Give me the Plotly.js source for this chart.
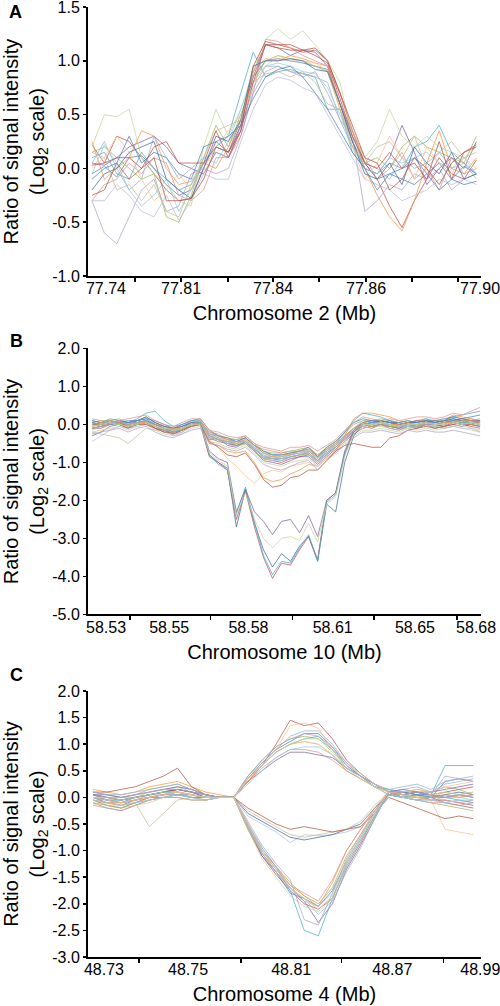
<!DOCTYPE html>
<html>
<head>
<meta charset="utf-8">
<script src="https://cdn.plot.ly/plotly-3.0.1.min.js"></script>
<style>html,body{margin:0;padding:0;background:#fff;}#chart{width:500px;height:1006px;}</style>
</head>
<body>
<div id="chart"></div>
<script>
// ---------------- Panel A : chromosome 2 ----------------
const probeA = [0,1,2,3,4,5,6,7,8,9,10,11,12,13,14,15,16,17,18,19,20,21,22,23,24,25,26,27,28,29,30,31];
const a01 = [-0.05,0.02,-0.08,0.1,0.12,0.0,-0.15,-0.25,-0.2,0.05,0.2,0.15,0.45,0.85,1.0,1.02,1.0,0.98,0.95,0.92,0.6,0.3,0.05,-0.1,-0.05,0.0,0.1,-0.05,0.05,-0.1,0.02,-0.05];
const a02 = [0.22,0.05,0.3,0.25,0.1,-0.05,-0.2,-0.3,-0.28,0.0,0.25,0.15,0.4,0.9,1.15,1.15,1.12,1.08,1.1,1.0,0.7,0.35,0.05,-0.1,-0.35,-0.55,-0.3,-0.1,0.1,-0.05,-0.1,0.08];
const a03 = [0.15,0.2,0.1,0.0,-0.1,-0.05,-0.45,-0.5,-0.25,0.1,0.4,0.2,0.5,0.8,1.0,1.05,1.02,1.0,0.95,0.9,0.55,0.25,0.05,0.1,0.0,0.2,0.3,0.2,0.15,0.1,0.05,0.3];
const a04 = [0.05,0.03,0.1,0.2,0.25,0.3,0.2,0.05,0.0,-0.05,0.15,0.1,0.4,0.85,1.15,1.12,1.05,1.1,1.08,0.95,0.6,0.25,0.0,-0.05,0.1,0.4,0.15,-0.15,0.0,0.1,0.0,0.25];
const a05 = [0.1,0.15,-0.05,-0.1,0.15,0.0,-0.1,-0.2,-0.15,0.05,0.2,0.3,0.7,1.08,0.85,0.9,0.92,0.88,0.85,0.55,0.55,0.15,0.0,-0.05,0.05,0.0,0.2,0.25,0.4,0.15,0.05,-0.05];
const a06 = [0.25,-0.1,0.0,0.1,0.35,0.3,0.0,-0.15,-0.12,0.05,0.0,0.2,0.45,0.9,1.02,1.0,1.05,1.02,0.98,0.95,0.6,0.35,0.0,-0.25,-0.45,-0.58,-0.3,0.05,0.35,0.0,-0.05,0.1];
const a07 = [0.05,0.25,0.0,-0.2,-0.1,0.3,0.1,-0.1,0.0,0.1,0.15,0.1,0.35,0.75,0.95,0.95,0.9,0.88,0.85,0.8,0.45,0.2,0.05,0.0,-0.1,0.1,0.0,0.05,0.15,0.0,0.05,-0.1];
const a08 = [-0.3,-0.15,-0.1,0.05,-0.05,0.1,0.05,-0.25,-0.3,-0.2,0.1,0.1,0.3,0.7,1.2,1.18,1.12,1.05,1.0,0.95,0.7,0.35,0.1,-0.1,0.0,0.15,-0.1,0.0,-0.2,0.1,-0.05,0.0];
const a09 = [0.2,0.5,0.48,0.55,0.1,-0.05,-0.15,-0.3,-0.35,0.2,0.55,0.3,0.55,0.9,1.2,1.3,1.2,1.28,1.15,1.0,0.8,0.3,0.1,0.25,0.55,0.3,0.2,0.3,0.2,0.15,0.1,0.2];
const a10 = [-0.3,-0.6,-0.7,-0.45,-0.2,-0.1,-0.4,-0.35,-0.05,0.0,-0.05,0.0,0.3,0.7,0.9,0.95,0.9,0.85,0.9,0.7,0.45,0.3,-0.4,-0.3,-0.15,-0.2,-0.05,-0.1,0.0,-0.2,-0.1,-0.05];
const a11 = [-0.05,0.22,0.05,-0.2,-0.35,-0.25,-0.1,-0.4,-0.2,0.1,0.05,0.25,0.55,0.85,0.95,0.98,0.95,0.9,0.88,0.75,0.5,0.2,0.0,-0.05,0.1,0.05,0.1,0.15,0.05,0.0,0.1,-0.05];
const a12 = [0.0,0.1,0.3,0.15,-0.1,-0.3,-0.2,-0.05,-0.2,0.0,0.2,0.35,0.5,0.8,0.95,1.05,1.0,1.0,0.98,0.9,0.55,0.2,-0.1,0.05,0.3,0.1,-0.1,0.2,0.05,-0.05,0.1,0.0];
const a13 = [-0.3,-0.3,-0.15,-0.25,-0.4,-0.45,-0.25,-0.48,-0.3,-0.05,-0.1,-0.1,0.25,0.55,0.78,0.85,0.82,0.75,0.7,0.5,0.3,0.1,-0.1,-0.15,-0.2,-0.3,-0.25,-0.2,-0.1,-0.15,-0.1,-0.15];
const a14 = [-0.2,-0.05,0.0,0.15,0.2,0.25,-0.1,-0.2,-0.28,0.0,0.3,0.25,0.45,0.95,1.0,1.0,1.02,1.0,0.92,0.9,0.6,0.25,-0.05,-0.1,0.05,-0.15,0.2,0.05,-0.05,0.15,-0.1,-0.05];
const a15 = [0.15,0.1,-0.2,-0.15,-0.3,-0.15,-0.4,-0.45,-0.15,0.1,0.35,0.4,0.45,0.8,0.88,0.9,0.85,0.9,0.8,0.6,0.55,0.2,0.05,0.2,0.25,0.1,0.3,0.0,0.15,0.25,0.1,0.15];
const a16 = [-0.25,-0.2,0.05,-0.1,0.0,0.1,-0.3,-0.3,-0.28,-0.1,0.2,0.15,0.35,0.95,1.18,1.15,1.15,1.1,1.12,1.0,0.7,0.4,0.1,0.05,-0.2,-0.1,0.1,0.0,-0.15,0.05,0.15,0.2];
const a17 = [-0.1,0.0,0.05,0.3,0.05,0.15,0.1,-0.05,-0.1,0.2,0.25,0.3,0.4,0.65,0.85,0.92,0.95,0.85,0.7,0.55,0.35,0.15,0.0,-0.2,-0.05,-0.1,-0.15,-0.05,-0.2,-0.1,-0.15,-0.12];
const a18 = [0.03,0.05,0.1,0.1,0.0,0.2,0.25,0.05,0.05,0.05,0.35,0.1,0.35,0.8,1.15,1.12,1.1,1.1,1.05,0.98,0.65,0.3,0.05,0.0,0.15,0.0,0.05,-0.1,0.25,-0.1,0.15,0.22];
const seriesA = [a01,a02,a03,a04,a05,a06,a07,a08,a09,a10,a11,a12,a13,a14,a15,a16,a17,a18];
const xLabelsA = ['77.74','77.81','77.84','77.86','77.90'];
const yTicksA = [-1.0,-0.5,0.0,0.5,1.0,1.5];
const yLabelsA = ['-1.0','-0.5','0.0','0.5','1.0','1.5'];

// ---------------- Panel B : chromosome 10 ----------------
const probeB = [0,1,2,3,4,5,6,7,8,9,10,11,12,13,14,15,16,17,18,19,20,21,22,23,24,25,26,27,28,29,30,31,32,33,34,35,36,37,38,39,40,41,42,43];
const b01 = [0.0,-0.05,0.05,0.1,0.0,0.1,0.15,0.0,-0.1,-0.2,-0.1,0.05,0.05,-0.3,-0.4,-0.5,-0.55,-0.45,-0.65,-0.85,-0.9,-0.95,-0.85,-0.8,-0.75,-0.95,-0.75,-0.6,-0.35,-0.1,0.05,0.0,0.1,0.05,-0.05,0.0,-0.05,0.1,0.0,0.05,0.15,0.1,0.05,0.0];
const b02 = [-0.1,-0.1,0.0,0.05,-0.05,0.0,0.05,-0.05,-0.15,-0.2,-0.15,-0.05,0.0,-0.35,-0.45,-0.5,-0.55,-0.5,-0.7,-0.9,-0.95,-1.0,-0.9,-0.85,-0.8,-1.0,-0.8,-0.6,-0.4,-0.2,-0.05,-0.1,0.0,-0.05,-0.1,-0.05,-0.1,0.0,-0.05,0.0,0.05,0.0,-0.05,-0.1];
const b03 = [0.05,0.1,0.1,0.15,0.05,0.1,0.2,0.05,-0.05,-0.1,-0.05,0.05,0.1,-0.2,-0.3,-0.35,-0.4,-0.3,-0.5,-0.7,-0.75,-0.75,-0.7,-0.65,-0.6,-0.8,-0.6,-0.45,-0.25,0.0,0.1,0.1,0.15,0.1,0.05,0.1,0.05,0.15,0.1,0.1,0.2,0.15,0.1,0.15];
const b04 = [-0.3,-0.2,-0.05,0.0,-0.1,0.05,0.1,-0.1,-0.2,-0.25,-0.15,0.0,0.05,-0.4,-0.35,-0.55,-0.6,-0.45,-0.7,-0.95,-1.0,-1.05,-0.95,-0.85,-0.85,-1.05,-0.85,-0.65,-0.45,-0.25,-0.1,-0.05,0.0,-0.1,-0.15,-0.05,-0.1,0.0,-0.1,-0.05,0.0,-0.05,0.0,-0.05];
const b05 = [0.1,0.05,0.15,0.1,0.05,0.15,0.3,0.35,0.1,-0.05,0.0,0.1,0.1,-0.25,-0.3,-0.4,-0.45,-0.35,-0.55,-0.75,-0.8,-0.8,-0.75,-0.7,-0.65,-0.85,-0.65,-0.5,-0.2,0.1,0.3,0.25,0.2,0.1,0.05,0.0,0.1,0.15,0.05,0.1,0.2,0.25,0.3,0.35];
const b06 = [-0.05,0.0,0.0,0.05,-0.05,0.0,0.05,-0.05,-0.15,-0.3,-0.2,-0.05,0.0,-0.35,-0.4,-0.45,-0.5,-0.45,-0.6,-0.85,-0.85,-0.9,-0.85,-0.8,-0.7,-0.9,-0.7,-0.55,-0.3,-0.1,0.0,0.05,0.05,-0.05,-0.1,0.0,0.0,0.05,-0.05,0.0,0.1,0.05,0.05,0.0];
const b07 = [0.0,0.05,0.1,0.0,0.0,0.05,0.1,0.05,-0.05,-0.1,-0.05,0.1,0.05,-0.2,-0.25,-0.4,-0.4,-0.35,-0.55,-0.65,-0.7,-0.75,-0.7,-0.7,-0.65,-0.8,-0.65,-0.5,-0.3,-0.1,0.05,0.1,0.1,0.05,0.0,0.05,0.1,0.1,0.05,0.1,0.1,0.1,0.15,0.1];
const b08 = [-0.2,-0.15,-0.1,-0.05,-0.15,-0.05,0.0,-0.15,-0.25,-0.3,-0.25,-0.1,-0.05,-0.45,-0.5,-0.6,-0.65,-0.55,-0.75,-1.0,-1.05,-1.1,-1.0,-0.95,-0.9,-1.1,-0.9,-0.7,-0.5,-0.3,-0.15,-0.15,-0.1,-0.15,-0.2,-0.1,-0.15,-0.1,-0.15,-0.1,-0.05,-0.1,-0.15,-0.2];
const b09 = [0.05,0.0,0.05,0.1,0.05,0.05,0.1,0.0,-0.05,-0.15,-0.05,0.05,0.1,-0.25,-0.3,-0.45,-0.45,-0.4,-0.65,-0.8,-0.9,-0.85,-0.8,-0.75,-0.75,-0.95,-0.7,-0.55,-0.35,-0.15,0.0,0.05,0.05,0.0,-0.05,0.05,0.0,0.05,0.05,0.1,0.1,0.05,0.1,0.05];
const b10 = [-0.15,-0.05,0.0,0.0,-0.05,0.0,0.05,-0.05,-0.1,-0.15,-0.1,0.0,0.0,-0.3,-0.35,-0.5,-0.5,-0.45,-0.6,-0.8,-0.85,-0.85,-0.8,-0.7,-0.7,-0.85,-0.7,-0.5,-0.3,-0.1,0.1,0.05,0.0,0.0,-0.05,-0.05,0.0,0.0,-0.05,0.0,0.05,0.1,0.0,-0.05];
const b11 = [-0.45,-0.3,-0.15,-0.05,-0.1,-0.05,0.0,-0.1,-0.2,-0.25,-0.2,-0.05,0.0,-0.35,-0.4,-0.5,-0.6,-0.5,-0.7,-0.9,-0.95,-0.95,-0.9,-0.8,-0.8,-1.0,-0.8,-0.6,-0.4,-0.15,-0.05,0.0,0.0,-0.05,-0.1,-0.05,-0.05,0.0,-0.05,-0.1,-0.05,-0.1,-0.1,-0.15];
const b12 = [-0.2,-0.25,-0.3,-0.35,-0.5,-0.3,-0.1,-0.15,-0.15,-0.2,-0.1,0.0,0.0,-0.25,-0.35,-0.45,-0.5,-0.4,-0.6,-0.75,-0.8,-0.85,-0.75,-0.7,-0.7,-0.85,-0.7,-0.5,-0.3,-0.1,0.0,0.0,-0.05,-0.1,-0.15,-0.1,-0.05,0.0,-0.05,-0.1,-0.05,0.0,-0.1,-0.2];
const b13 = [0.1,0.05,0.0,0.05,0.1,0.1,0.15,0.1,0.0,-0.1,0.0,0.1,0.15,-0.15,-0.3,-0.35,-0.45,-0.35,-0.55,-0.7,-0.8,-0.8,-0.75,-0.7,-0.6,-0.85,-0.6,-0.45,-0.2,0.05,0.15,0.1,0.1,0.05,0.05,0.1,0.05,0.1,0.1,0.15,0.2,0.15,0.2,0.25];
const b14 = [-0.05,0.0,0.05,0.0,-0.05,0.0,0.1,0.0,-0.1,-0.2,-0.15,0.0,0.05,-0.3,-0.4,-0.45,-0.55,-0.5,-0.7,-0.9,-0.9,-0.9,-0.85,-0.8,-0.8,-0.95,-0.8,-0.6,-0.4,-0.15,0.0,-0.05,0.0,-0.05,-0.05,0.0,-0.05,0.05,0.0,0.0,0.1,0.05,0.0,0.05];
const b15 = [0.0,0.05,0.1,0.05,0.0,0.05,0.05,0.0,-0.1,-0.1,-0.1,0.0,0.1,-0.3,-0.3,-0.4,-0.5,-0.4,-0.55,-0.75,-0.85,-0.8,-0.8,-0.7,-0.7,-0.9,-0.65,-0.5,-0.3,-0.1,0.05,0.0,0.05,0.0,0.0,0.05,0.0,0.05,0.0,0.05,0.05,0.1,0.1,0.05];
const b16 = [-0.1,-0.05,0.0,0.1,0.0,0.05,0.1,-0.05,-0.15,-0.2,-0.1,0.0,0.05,-0.3,-0.4,-0.5,-0.45,-0.45,-0.65,-0.85,-0.9,-0.9,-0.8,-0.75,-0.75,-0.95,-0.75,-0.55,-0.35,-0.15,0.0,0.0,0.05,0.0,-0.05,-0.05,-0.05,0.0,0.0,0.0,0.05,0.0,0.05,0.0];
const b17 = [-0.1,-0.05,0.0,0.05,-0.05,0.0,0.05,-0.05,-0.15,-0.2,-0.15,0.0,0.05,-0.5,-0.55,-0.7,-0.75,-0.7,-1.0,-1.4,-1.5,-1.45,-1.3,-1.2,-1.05,-1.1,-0.9,-0.7,-0.3,0.15,0.3,0.3,0.25,0.2,0.1,0.05,0.1,0.1,0.05,0.1,0.25,0.2,0.15,0.1];
const b18 = [0.0,0.0,0.05,0.0,-0.1,0.0,0.05,-0.1,-0.2,-0.2,-0.15,-0.05,0.0,-0.45,-0.6,-0.8,-0.85,-0.75,-1.05,-1.45,-1.65,-1.6,-1.4,-1.35,-1.2,-1.2,-0.95,-0.7,-0.55,-0.5,-0.55,-0.6,-0.6,-0.35,-0.3,-0.15,-0.1,-0.05,-0.1,-0.05,0.0,0.05,0.0,0.1];
const b19 = [-0.05,0.0,0.0,0.05,0.0,0.05,0.1,0.0,-0.1,-0.15,-0.1,0.0,0.05,-0.4,-0.6,-0.9,-1.1,-1.35,-1.55,-1.3,-1.2,-1.25,-1.1,-1.05,-1.0,-1.1,-0.9,-0.7,-0.45,-0.2,-0.1,-0.05,0.0,-0.05,0.0,0.0,-0.1,0.05,0.0,0.0,0.1,0.05,0.0,0.05];
const b20 = [0.0,0.05,0.1,0.05,0.0,0.05,0.1,0.0,-0.1,-0.15,-0.1,0.0,0.05,-0.7,-0.9,-1.0,-2.3,-1.7,-2.3,-2.55,-2.9,-2.55,-2.5,-2.85,-2.4,-2.95,-2.0,-1.8,-0.7,-0.15,0.05,0.1,0.05,0.1,0.0,0.05,0.1,0.05,0.1,0.05,0.1,0.15,0.1,0.1];
const b21 = [-0.05,0.0,0.05,0.0,-0.05,0.0,0.05,-0.05,-0.1,-0.15,-0.1,0.0,0.0,-0.75,-0.95,-1.1,-2.4,-1.8,-2.5,-3.0,-3.25,-3.0,-2.95,-3.05,-2.6,-3.1,-2.1,-1.9,-0.85,-0.25,0.0,0.0,0.05,0.0,-0.05,0.0,0.0,0.05,0.0,0.0,0.05,0.0,0.05,0.0];
const b22 = [0.05,0.0,0.05,0.1,0.05,0.1,0.2,0.05,-0.05,-0.1,-0.05,0.05,0.05,-0.8,-1.0,-1.15,-2.7,-1.7,-2.6,-3.3,-3.75,-3.4,-3.6,-3.2,-2.95,-3.6,-2.1,-2.3,-1.0,-0.3,0.0,0.05,0.1,0.05,0.0,0.05,0.05,0.1,0.05,0.1,0.15,0.1,0.1,0.05];
const b23 = [-0.1,-0.05,0.0,0.05,-0.05,0.0,0.0,-0.1,-0.15,-0.25,-0.15,0.0,0.0,-0.85,-1.0,-1.2,-2.5,-1.75,-2.7,-3.5,-4.05,-3.65,-3.7,-3.3,-2.95,-3.55,-2.0,-1.8,-0.75,-0.2,0.0,-0.05,0.0,-0.05,-0.1,0.0,-0.05,0.0,0.0,-0.05,0.05,0.0,0.0,-0.05];
const b24 = [0.0,0.05,0.05,0.05,0.0,0.05,0.1,0.0,-0.1,-0.2,-0.1,0.0,0.05,-0.8,-1.05,-1.2,-2.35,-1.65,-2.55,-3.45,-3.95,-3.6,-3.65,-3.25,-2.9,-3.6,-2.05,-1.85,-0.8,-0.2,0.0,0.05,0.05,0.0,-0.05,0.0,0.0,0.05,0.0,0.05,0.1,0.05,0.05,0.0];
const b25 = [0.15,0.1,0.05,0.1,0.15,0.2,0.25,0.1,0.0,-0.05,0.05,0.15,0.15,-0.15,-0.2,-0.3,-0.35,-0.3,-0.5,-0.6,-0.65,-0.7,-0.6,-0.6,-0.55,-0.7,-0.55,-0.4,-0.15,0.05,0.2,0.15,0.1,0.15,0.1,0.15,0.2,0.2,0.15,0.2,0.3,0.25,0.35,0.45];
const b26 = [-0.25,-0.2,-0.15,-0.1,-0.2,-0.1,-0.05,-0.2,-0.3,-0.35,-0.25,-0.15,-0.1,-0.5,-0.55,-0.65,-0.7,-0.6,-0.8,-1.05,-1.15,-1.2,-1.1,-1.0,-0.95,-1.2,-0.95,-0.75,-0.55,-0.35,-0.2,-0.2,-0.15,-0.2,-0.25,-0.15,-0.2,-0.15,-0.2,-0.2,-0.15,-0.2,-0.25,-0.3];
const seriesB = [b01,b02,b03,b04,b05,b17,b06,b07,b08,b09,b10,b19,b11,b22,b12,b18,b13,b23,b14,b20,b24,b15,b16,b25,b21,b26];
const xLabelsB = ['58.53','58.55','58.58','58.61','58.65','58.68'];
const yTicksB = [-5.0,-4.0,-3.0,-2.0,-1.0,0.0,1.0,2.0];
const yLabelsB = ['-5.0','-4.0','-3.0','-2.0','-1.0','0.0','1.0','2.0'];

// ---------------- Panel C : chromosome 4 ----------------
const probeC = [0,1,2,3,4,5,6,7,8,9,10,11,12,13,14,15,16,17,18,19,20,21,22,23,24,25,26,27];
const c01 = [0.05,-0.05,-0.1,0.0,0.05,0.1,0.15,0.1,0.05,0.0,0.0,0.35,0.65,0.9,1.05,1.2,1.2,0.95,0.6,0.4,0.25,0.1,0.05,0.1,0.0,0.3,0.35,0.3];
const c02 = [-0.05,-0.15,-0.2,-0.1,0.0,0.05,0.1,0.05,0.0,0.0,0.0,0.3,0.6,1.0,1.45,1.35,1.4,1.1,0.7,0.45,0.25,0.1,0.0,0.05,-0.05,-0.05,-0.1,-0.15];
const c03 = [0.1,0.05,0.0,0.05,0.15,0.2,0.25,0.15,0.05,0.0,0.0,0.4,0.7,0.95,1.1,1.15,1.1,0.9,0.55,0.4,0.2,0.15,0.1,0.15,0.1,0.2,0.15,0.05];
const c04 = [0.0,-0.1,-0.15,-0.05,0.0,0.0,0.05,0.05,0.0,0.0,0.0,0.3,0.5,0.7,0.85,0.85,0.8,0.75,0.55,0.4,0.25,0.1,0.0,-0.05,0.0,-0.1,-0.15,-0.2];
const c05 = [-0.1,-0.2,-0.25,-0.15,-0.05,0.0,0.05,0.0,-0.05,0.0,0.0,0.35,0.6,0.85,1.0,1.1,1.15,0.9,0.6,0.4,0.2,0.15,0.05,0.1,0.05,0.6,0.6,0.6];
const c06 = [0.15,0.1,0.05,0.1,0.2,0.25,0.3,0.2,0.1,0.05,0.0,0.3,0.6,0.85,1.0,1.05,1.0,0.8,0.5,0.35,0.2,0.1,0.05,0.0,0.05,0.0,0.05,0.1];
const c07 = [0.0,-0.05,-0.05,0.0,0.05,0.05,0.1,0.0,0.0,0.0,0.0,0.4,0.65,0.9,1.15,1.25,1.25,1.0,0.65,0.45,0.25,0.1,0.15,0.2,0.1,0.25,0.3,0.35];
const c08 = [-0.05,-0.1,-0.15,-0.1,0.0,0.05,0.15,0.1,0.0,0.0,0.0,0.3,0.55,0.75,0.9,0.9,0.85,0.7,0.5,0.35,0.2,0.05,0.0,0.0,-0.05,-0.05,-0.1,-0.05];
const c09 = [0.05,0.0,-0.05,0.0,0.1,0.15,0.2,0.1,0.05,0.0,0.0,0.35,0.6,0.85,1.0,1.1,1.1,0.85,0.55,0.35,0.2,0.1,0.05,0.05,0.0,0.1,0.05,0.0];
const c10 = [0.0,-0.1,-0.1,-0.05,0.05,0.1,0.1,0.05,0.0,0.0,0.0,0.4,0.7,0.95,1.1,1.2,1.15,0.95,0.65,0.4,0.25,0.15,0.1,0.1,0.05,0.4,0.35,0.3];
const c11 = [0.1,0.05,0.0,0.0,0.05,0.1,0.2,0.15,0.05,0.0,0.0,0.25,0.5,0.75,0.9,0.95,0.95,0.8,0.55,0.4,0.2,0.05,0.0,0.05,0.0,0.05,0.0,-0.05];
const c12 = [-0.15,-0.1,-0.2,-0.15,-0.1,0.0,0.05,0.0,-0.05,0.0,0.0,0.35,0.6,0.9,1.35,1.4,1.3,0.9,0.6,0.45,0.25,0.1,0.05,0.0,-0.05,-0.6,-0.65,-0.7];
const c13 = [0.0,-0.05,-0.1,-0.05,0.0,0.05,0.1,0.05,0.0,0.0,0.0,-0.35,-0.5,-0.65,-0.85,-0.7,-0.72,-0.7,-0.65,-0.55,-0.25,0.05,0.0,-0.05,-0.05,-0.1,-0.05,-0.1];
const c14 = [0.05,0.0,-0.05,0.0,0.05,0.1,0.15,0.1,0.0,0.0,0.0,-0.3,-0.45,-0.6,-0.75,-0.8,-0.75,-0.7,-0.6,-0.5,-0.2,0.05,0.1,0.05,0.0,0.05,0.1,0.05];
const c15 = [-0.05,-0.1,-0.15,-0.1,-0.55,-0.3,-0.05,0.0,0.0,0.0,0.0,-0.25,-0.4,-0.55,-0.7,-0.75,-0.7,-0.65,-0.6,-0.45,-0.15,0.1,0.05,0.0,-0.05,0.0,0.0,0.05];
const c16 = [0.1,0.1,0.15,0.2,0.3,0.4,0.55,0.2,0.05,0.0,0.0,-0.2,-0.35,-0.5,-0.6,-0.55,-0.6,-0.65,-0.6,-0.55,-0.3,0.0,-0.1,-0.2,-0.3,-0.4,-0.35,-0.4];
const c17 = [0.0,-0.05,-0.1,-0.05,0.0,0.05,0.05,0.0,0.0,0.0,0.0,-0.55,-1.05,-1.4,-1.8,-1.9,-2.05,-1.75,-1.2,-0.75,-0.3,0.1,0.1,0.05,0.05,0.0,0.05,0.0];
const c18 = [0.05,0.0,-0.05,0.0,0.05,0.1,0.15,0.1,0.05,0.0,0.0,-0.6,-1.1,-1.45,-1.75,-2.0,-2.1,-1.9,-1.3,-0.85,-0.35,0.1,0.05,0.1,0.05,0.1,0.15,0.2];
const c19 = [-0.1,-0.15,-0.2,-0.1,-0.05,0.0,0.0,-0.05,-0.05,0.0,0.0,-0.5,-1.0,-1.3,-1.6,-1.85,-2.0,-1.7,-1.1,-0.7,-0.3,0.05,0.0,-0.05,-0.1,-0.15,-0.2,-0.25];
const c20 = [0.05,0.05,0.0,0.05,0.1,0.15,0.2,0.15,0.05,0.0,0.0,-0.55,-1.1,-1.4,-1.7,-1.95,-2.35,-2.0,-1.35,-0.9,-0.4,0.1,0.15,0.1,0.1,0.15,0.2,0.25];
const c21 = [0.0,-0.05,-0.05,0.0,0.05,0.1,0.1,0.05,0.0,0.0,0.0,-0.5,-0.95,-1.3,-1.75,-2.5,-2.6,-1.9,-1.25,-0.8,-0.35,0.05,0.0,0.05,0.0,0.0,-0.05,-0.1];
const c22 = [-0.05,-0.1,-0.1,-0.05,0.0,0.05,0.1,0.05,0.0,0.0,0.0,-0.6,-1.05,-1.35,-1.65,-1.85,-2.05,-1.6,-1.0,-0.6,-0.2,0.1,0.05,0.0,0.0,0.05,0.0,0.05];
const c23 = [0.1,0.05,0.05,0.1,0.15,0.2,0.25,0.15,0.05,0.0,0.0,-0.55,-1.0,-1.35,-1.7,-1.9,-2.2,-1.95,-1.4,-0.95,-0.4,0.15,0.2,0.25,0.15,0.3,0.35,0.4];
const c24 = [-0.15,-0.2,-0.25,-0.15,-0.05,0.0,0.0,-0.05,-0.05,0.0,0.0,-0.5,-1.0,-1.3,-1.65,-1.8,-1.95,-1.55,-1.0,-0.6,-0.25,0.1,0.0,-0.05,-0.1,-0.1,-0.15,-0.1];
const c25 = [0.0,0.0,-0.05,0.0,0.05,0.1,0.1,0.05,0.0,0.0,0.0,-0.6,-1.15,-1.5,-1.85,-2.05,-2.15,-1.9,-1.3,-0.8,-0.3,0.1,0.05,0.0,0.05,0.1,0.05,0.1];
const c26 = [0.05,0.0,0.0,0.05,0.1,0.15,0.15,0.1,0.05,0.0,0.0,-0.45,-0.9,-1.25,-1.55,-2.3,-2.4,-1.8,-1.15,-0.7,-0.25,0.1,0.05,0.1,0.05,0.0,0.05,0.0];
const c27 = [-0.05,-0.1,-0.15,-0.1,-0.05,0.0,0.05,0.0,-0.05,0.0,0.0,-0.55,-1.05,-1.4,-1.75,-1.95,-2.05,-1.8,-1.25,-0.8,-0.35,0.05,0.0,-0.05,-0.05,-0.1,-0.05,-0.05];
const c28 = [0.0,-0.05,-0.1,-0.05,0.0,0.05,0.1,0.05,0.0,0.0,0.0,-0.5,-1.0,-1.35,-1.7,-1.9,-2.1,-1.85,-1.2,-0.75,-0.3,0.1,0.1,0.15,0.1,0.2,0.25,0.3];
const seriesC = [c01,c02,c03,c04,c05,c06,c07,c08,c09,c10,c11,c12,c13,c14,c15,c16,c17,c18,c19,c20,c21,c22,c23,c24,c25,c26,c27,c28];
const xLabelsC = ['48.73','48.75','48.81','48.87','48.99'];
const yTicksC = [-3.0,-2.5,-2.0,-1.5,-1.0,-0.5,0.0,0.5,1.0,1.5,2.0];
const yLabelsC = ['-3.0','-2.5','-2.0','-1.5','-1.0','-0.5','0.0','0.5','1.0','1.5','2.0'];

const yTitle = 'Ratio of signal intensity<br>(Log<sub>2</sub> scale)';

// ---------------- styling / axis configuration ----------------
const FONT = 'Arial, "Liberation Sans", Helvetica, sans-serif';
const palette = ['#4F81BD','#C0504D','#9BBB59','#8064A2','#4BACC6','#F79646',
                 '#95B3D7','#D99694','#C3D69B','#B3A2C7','#93CDDD','#FAC08F',
                 '#B9BEDA','#3F6AA0','#C4BD97','#B0573E'];

// axis-position settings (in probe-index units of each panel)
const cfgA = {range:[-0.32,31.37], ticks:[3.47,7.18,10.97,14.6,18.31,22.1,25.81,29.52], labelAt:[1.13,7.18,14.6,22.1,31.29]};
const cfgB = {range:[-0.44,43.1], ticks:[4.22,13.11,22.22,31.22,40.44], labelAt:[1.56,8.56,17.33,26.67,35.78,42.56]};
const cfgC = {range:[-0.355,27.55], ticks:[3.27,10.52,17.63,24.88], labelAt:[0.78,6.75,14.07,21.25,27.5]};

const traces = [];
function addPanel(series, xs, xa, ya) {
  series.forEach((ys, i) => {
    traces.push({type:'scatter', mode:'lines', x: xs, y: ys, xaxis: xa, yaxis: ya,
      line:{color: palette[i % palette.length], width:1}, opacity:0.75,
      hoverinfo:'skip', showlegend:false});
  });
}
addPanel(seriesA, probeA, 'x', 'y');
addPanel(seriesB, probeB, 'x2', 'y2');
addPanel(seriesC, probeC, 'x3', 'y3');

const XD = [0.176, 0.962];
function xAxis(anchor, cfg, labels, title) {
  return {domain: XD, anchor: anchor, range: cfg.range, showline:true, linecolor:'#000', linewidth:2,
    showgrid:false, zeroline:false, fixedrange:true, ticklabeloverflow:'allow', ticklabelstandoff:-3,
    tickmode:'array', tickvals: cfg.labelAt, ticktext: labels, ticks:'',
    tickfont:{family:FONT, size:16, color:'#000'},
    minor:{tickmode:'array', tickvals: cfg.ticks, ticks:'outside', ticklen:4, tickwidth:1.5, tickcolor:'#000', showgrid:false},
    title:{text:title, font:{family:FONT, size:20, color:'#000'}, standoff:10}};
}
function yAxis(anchor, dom, range, vals, labels) {
  return {domain: dom, anchor: anchor, range: range, showline:true, linecolor:'#000', linewidth:2,
    showgrid:false, zeroline:false, fixedrange:true, ticklabeloverflow:'allow',
    tickmode:'array', tickvals: vals, ticktext: labels, ticks:'outside', ticklen:3, tickwidth:1.5, tickcolor:'#000',
    tickfont:{family:FONT, size:16, color:'#000'},
    title:{text:yTitle, font:{family:FONT, size:20, color:'#000'}, standoff:7}};
}

function letter(t, x, y) {
  return {text:'<b>'+t+'</b>', xref:'paper', yref:'paper', x:x, y:y, xanchor:'center', yanchor:'middle',
    showarrow:false, font:{family:FONT, size:18, color:'#000'}};
}

const layout = {
  width:500, height:1006, margin:{l:0, r:0, t:0, b:0},
  paper_bgcolor:'#ffffff', plot_bgcolor:'#ffffff', showlegend:false,
  font:{family:FONT, color:'#000'},
  xaxis:  xAxis('y',  cfgA, xLabelsA, 'Chromosome 2 (Mb)'),
  yaxis:  yAxis('x',  [0.7256, 0.9930], [-1, 1.5], yTicksA, yLabelsA),
  xaxis2: xAxis('y2', cfgB, xLabelsB, 'Chromosome 10 (Mb)'),
  yaxis2: yAxis('x2', [0.3892, 0.6536], [-5, 2], yTicksB, yLabelsB),
  xaxis3: xAxis('y3', cfgC, xLabelsC, 'Chromosome 4 (Mb)'),
  yaxis3: yAxis('x3', [0.0487, 0.3131], [-3, 2], yTicksC, yLabelsC),
  annotations:[letter('A', 0.03, 0.988), letter('B', 0.032, 0.661), letter('C', 0.032, 0.329)]
};

Plotly.newPlot('chart', traces, layout, {staticPlot:true, displayModeBar:false});
</script>
</body>
</html>
